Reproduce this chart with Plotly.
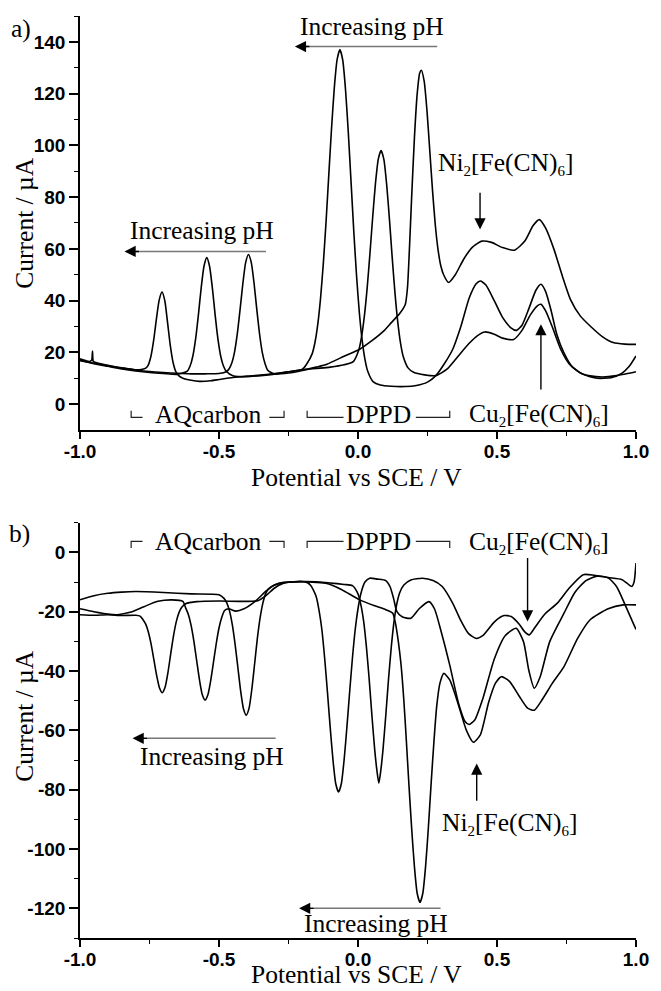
import plotly.graph_objects as go

# ---------------- data ----------------
# Panel a) : three voltammograms (high, middle, low pH)
top_a_x = [-1.0, -0.98, -0.965, -0.958, -0.955, -0.952, -0.94, -0.9, -0.85, -0.8, -0.775, -0.765, -0.755, -0.745, -0.735, -0.725, -0.715, -0.705, -0.695, -0.685, -0.675, -0.665, -0.655, -0.645, -0.63, -0.6, -0.57, -0.53, -0.5, -0.45, -0.4, -0.35, -0.3, -0.25, -0.2, -0.185, -0.165, -0.155, -0.145, -0.135, -0.125, -0.115, -0.105, -0.095, -0.085, -0.075, -0.065, -0.055, -0.045, -0.035, -0.025, -0.015, -0.005, 0.005, 0.015, 0.025, 0.035, 0.055, 0.08, 0.12, 0.17, 0.21, 0.25, 0.28, 0.31, 0.34, 0.37, 0.4, 0.425, 0.44, 0.46, 0.49, 0.52, 0.55, 0.57, 0.59, 0.615, 0.64, 0.658, 0.675, 0.695, 0.715, 0.74, 0.77, 0.81, 0.86, 0.91, 0.95, 0.975, 1.0]
top_a_y = [17.5, 16.8, 16.5, 17.0, 20.5, 16.5, 16.0, 15.0, 14.0, 13.3, 13.5, 13.8, 15.0, 18.4, 24.7, 33.0, 40.3, 43.3, 40.0, 31.5, 22.5, 16.0, 12.5, 11.0, 10.0, 9.2, 8.8, 9.0, 9.5, 10.3, 10.8, 11.2, 11.8, 12.5, 13.5, 15.4, 19.4, 23.7, 30.6, 40.6, 54.0, 70.3, 88.7, 106.9, 122.5, 133.2, 137.0, 133.0, 121.7, 105.2, 85.9, 66.5, 49.3, 35.1, 24.6, 17.3, 12.7, 8.6, 7.4, 6.9, 6.8, 7.2, 8.5, 11.0, 15.5, 21.0, 30.0, 41.0, 46.5, 47.6, 46.0, 40.0, 33.5, 29.5, 28.5, 30.5, 37.0, 44.0, 46.3, 43.5, 36.0, 27.0, 20.0, 14.5, 11.5, 10.0, 10.2, 12.0, 14.5, 18.6]

top_b_x = [-1.0, -0.95, -0.9, -0.85, -0.8, -0.75, -0.7, -0.65, -0.614, -0.604, -0.594, -0.584, -0.574, -0.564, -0.554, -0.544, -0.534, -0.524, -0.514, -0.504, -0.494, -0.484, -0.474, -0.45, -0.4, -0.35, -0.3, -0.25, -0.2, -0.15, -0.1, -0.05, -0.017, 0.003, 0.013, 0.023, 0.033, 0.043, 0.053, 0.063, 0.073, 0.083, 0.093, 0.103, 0.113, 0.123, 0.133, 0.143, 0.153, 0.163, 0.18, 0.2, 0.24, 0.28, 0.32, 0.36, 0.4, 0.43, 0.456, 0.49, 0.52, 0.56, 0.59, 0.62, 0.645, 0.658, 0.675, 0.7, 0.73, 0.76, 0.8, 0.835, 0.88, 0.93, 0.97, 1.0]
top_b_y = [17.0, 15.6, 14.6, 13.6, 12.8, 12.2, 11.8, 11.5, 12.7, 14.7, 18.6, 25.3, 34.6, 45.0, 53.3, 56.6, 53.3, 45.0, 34.6, 25.3, 18.6, 14.7, 12.7, 11.0, 10.6, 11.0, 11.6, 12.5, 13.3, 13.8, 14.3, 15.2, 16.4, 21.0, 26.2, 34.1, 44.9, 58.2, 72.5, 85.5, 94.7, 98.0, 94.6, 85.0, 71.6, 56.7, 43.0, 31.8, 23.6, 18.3, 14.0, 12.3, 11.3, 11.0, 13.5, 18.5, 23.5, 26.5, 27.9, 27.0, 25.5, 25.0, 28.5, 34.5, 38.0, 38.6, 36.0, 29.5, 21.0, 15.5, 12.0, 10.9, 10.5, 11.0, 11.8, 12.5]

top_c_x = [-1.0, -0.95, -0.9, -0.85, -0.8, -0.75, -0.7, -0.65, -0.6, -0.55, -0.5, -0.474, -0.464, -0.454, -0.444, -0.434, -0.424, -0.414, -0.404, -0.394, -0.384, -0.374, -0.364, -0.354, -0.344, -0.334, -0.324, -0.3, -0.25, -0.2, -0.15, -0.112, -0.05, 0.006, 0.05, 0.09, 0.12, 0.15, 0.17, 0.178, 0.185, 0.193, 0.203, 0.213, 0.222, 0.228, 0.238, 0.248, 0.258, 0.268, 0.278, 0.288, 0.298, 0.308, 0.326, 0.35, 0.38, 0.41, 0.445, 0.48, 0.52, 0.563, 0.6, 0.63, 0.652, 0.675, 0.705, 0.735, 0.764, 0.8, 0.835, 0.88, 0.918, 0.96, 1.0]
top_c_y = [16.8, 15.8, 14.8, 13.9, 13.2, 12.6, 12.2, 11.9, 11.7, 11.7, 11.8, 12.5, 13.6, 15.9, 20.2, 27.3, 36.7, 46.8, 54.8, 57.8, 54.8, 46.8, 36.5, 27.0, 19.8, 15.5, 13.0, 11.6, 12.0, 13.0, 14.3, 15.4, 18.5, 21.2, 24.5, 28.0, 31.5, 35.0, 38.5, 45.0, 60.0, 80.0, 103.0, 120.0, 128.0, 129.0, 124.8, 113.6, 98.3, 82.7, 69.3, 59.6, 53.4, 50.0, 47.0, 50.0, 56.0, 60.5, 63.0, 62.5, 60.5, 59.5, 63.0, 69.0, 71.3, 68.0, 59.8, 49.5, 40.5, 34.0, 30.2, 26.0, 23.8, 23.2, 23.1]

# Panel b) : the reverse scans
bot_a_x = [-1.0, -0.95, -0.9, -0.85, -0.8, -0.784, -0.774, -0.764, -0.754, -0.744, -0.734, -0.724, -0.714, -0.704, -0.694, -0.684, -0.674, -0.664, -0.654, -0.644, -0.634, -0.62, -0.58, -0.5, -0.42, -0.36, -0.33, -0.3, -0.27, -0.24, -0.2, -0.18, -0.17, -0.16, -0.15, -0.14, -0.13, -0.12, -0.11, -0.1, -0.09, -0.08, -0.07, -0.06, -0.05, -0.04, -0.03, -0.02, -0.01, 0.0, 0.01, 0.025, 0.042, 0.07, 0.1, 0.115, 0.128, 0.14, 0.16, 0.19, 0.22, 0.255, 0.275, 0.3, 0.33, 0.362, 0.385, 0.4, 0.42, 0.45, 0.49, 0.53, 0.569, 0.595, 0.615, 0.634, 0.655, 0.69, 0.741, 0.78, 0.82, 0.86, 0.9, 0.93, 0.96, 1.0]
bot_a_y = [-21.0, -21.2, -21.0, -21.3, -21.2, -21.5, -22.6, -24.1, -26.9, -31.0, -36.3, -41.6, -45.7, -47.3, -45.5, -40.7, -34.4, -28.3, -23.5, -20.3, -18.5, -17.3, -16.6, -16.4, -16.5, -16.3, -14.5, -12.0, -10.5, -10.0, -9.8, -10.3, -11.2, -12.8, -15.0, -19.6, -26.0, -35.6, -47.0, -59.0, -70.0, -78.0, -80.8, -78.0, -70.0, -59.0, -47.0, -35.6, -26.0, -19.0, -14.0, -10.0, -8.7, -9.0, -9.5, -11.5, -15.5, -20.0, -21.8, -22.2, -19.0, -16.6, -19.0, -27.0, -38.0, -51.0, -57.0, -58.0, -56.5, -49.0, -36.0, -28.0, -25.6, -30.0, -40.0, -45.8, -42.0, -30.0, -20.5, -13.5, -9.5, -8.0, -8.6, -11.5, -17.5, -26.0]

bot_b_x = [-1.0, -0.95, -0.9, -0.865, -0.82, -0.77, -0.72, -0.67, -0.63, -0.62, -0.61, -0.6, -0.59, -0.58, -0.57, -0.56, -0.55, -0.54, -0.53, -0.52, -0.51, -0.5, -0.49, -0.48, -0.465, -0.44, -0.41, -0.37, -0.33, -0.3, -0.27, -0.2, -0.15, -0.1, -0.05, -0.02, 0.0, 0.01, 0.02, 0.03, 0.04, 0.05, 0.06, 0.068, 0.075, 0.082, 0.09, 0.1, 0.11, 0.12, 0.13, 0.14, 0.15, 0.165, 0.19, 0.232, 0.27, 0.303, 0.34, 0.37, 0.397, 0.425, 0.45, 0.49, 0.525, 0.551, 0.58, 0.6, 0.616, 0.635, 0.67, 0.717, 0.76, 0.81, 0.85, 0.9, 0.95, 0.985, 0.993, 1.0]
bot_b_y = [-19.0, -20.0, -20.8, -21.0, -20.2, -18.3, -16.5, -16.0, -16.5, -18.7, -21.0, -24.8, -30.2, -36.7, -43.1, -48.0, -49.8, -48.0, -43.3, -37.1, -30.8, -25.5, -21.9, -19.6, -19.0, -19.8, -19.0, -16.5, -13.0, -11.0, -10.2, -9.8, -9.9, -10.3, -10.8, -11.2, -14.0, -17.5, -23.0, -31.6, -42.5, -54.9, -66.4, -73.5, -77.8, -73.5, -66.4, -54.9, -42.5, -31.6, -23.0, -17.2, -13.6, -11.0, -9.3, -8.7, -9.5, -11.5, -17.0, -23.0, -27.3, -29.0, -28.0, -23.5, -21.3, -21.6, -24.2, -26.8, -27.8, -25.5, -21.0, -17.1, -12.0, -7.5, -7.7, -8.5, -9.2, -11.5, -10.0, -3.6]

bot_c_x = [-1.0, -0.95, -0.9, -0.85, -0.8, -0.7, -0.6, -0.5, -0.482, -0.472, -0.462, -0.452, -0.442, -0.432, -0.422, -0.412, -0.402, -0.392, -0.382, -0.372, -0.362, -0.352, -0.342, -0.332, -0.322, -0.3, -0.27, -0.2, -0.15, -0.112, -0.06, 0.006, 0.06, 0.1, 0.125, 0.135, 0.145, 0.155, 0.165, 0.173, 0.183, 0.193, 0.203, 0.213, 0.223, 0.233, 0.243, 0.253, 0.263, 0.273, 0.283, 0.295, 0.309, 0.33, 0.36, 0.39, 0.415, 0.44, 0.47, 0.495, 0.516, 0.545, 0.58, 0.61, 0.634, 0.66, 0.7, 0.741, 0.79, 0.835, 0.9, 0.954, 1.0]
bot_c_y = [-16.0, -14.6, -13.8, -13.4, -13.2, -13.5, -14.0, -14.3, -15.5, -17.0, -19.8, -24.4, -31.0, -38.9, -46.8, -52.7, -54.9, -52.6, -46.2, -37.7, -29.0, -22.0, -17.0, -13.9, -12.3, -11.0, -10.2, -9.9, -10.1, -10.5, -12.5, -16.0, -18.0, -19.3, -20.5, -24.0, -30.0, -38.0, -50.0, -62.0, -78.0, -93.0, -106.0, -115.0, -118.0, -115.0, -106.0, -93.0, -78.0, -64.0, -52.0, -44.0, -40.8, -43.0, -51.0, -60.0, -64.0, -61.5, -50.5, -44.0, -41.9, -43.5, -48.5, -52.5, -53.2, -50.0, -44.0, -38.5, -29.0, -22.7, -19.0, -17.7, -17.7]

# ticks
x_tick_vals = [-1.0, -0.5, 0.0, 0.5, 1.0]
x_tick_text = ["-1.0", "-0.5", "0.0", "0.5", "1.0"]
x_minor_vals = [-0.75, -0.25, 0.25, 0.75]
top_y_tick_vals = [0, 20, 40, 60, 80, 100, 120, 140]
top_y_tick_text = ["0", "20", "40", "60", "80", "100", "120", "140"]
top_y_minor_vals = [10, 30, 50, 70, 90, 110, 130, 150]
bot_y_tick_vals = [-120, -100, -80, -60, -40, -20, 0]
bot_y_tick_text = ["-120", "-100", "-80", "-60", "-40", "-20", "0"]
bot_y_minor_vals = [-130, -110, -90, -70, -50, -30, -10, 10]

for xs, ys in [(top_a_x, top_a_y), (top_b_x, top_b_y), (top_c_x, top_c_y),
               (bot_a_x, bot_a_y), (bot_b_x, bot_b_y), (bot_c_x, bot_c_y)]:
    assert len(xs) == len(ys), (len(xs), len(ys))

# ---------------- figure ----------------
SERIF = "Liberation Serif"
SANS = "Liberation Sans"
TXT = 25.5

fig = go.Figure()
line_style = dict(color="black", width=1.6, shape="spline", smoothing=0.6)
for xs, ys in [(top_a_x, top_a_y), (top_b_x, top_b_y), (top_c_x, top_c_y)]:
    fig.add_trace(go.Scatter(x=xs, y=ys, mode="lines", line=line_style,
                             xaxis="x", yaxis="y", showlegend=False, hoverinfo="skip"))
for xs, ys in [(bot_a_x, bot_a_y), (bot_b_x, bot_b_y), (bot_c_x, bot_c_y)]:
    fig.add_trace(go.Scatter(x=xs, y=ys, mode="lines", line=line_style,
                             xaxis="x2", yaxis="y2", showlegend=False, hoverinfo="skip"))

tickfont = dict(family=SANS, size=19, color="black", weight="bold")


def xaxis_cfg(anchor):
    return dict(domain=[0, 1], range=[-1, 1], anchor=anchor, tickmode="array",
                tickvals=x_tick_vals, ticktext=x_tick_text, ticks="outside",
                ticklen=7, tickwidth=1.5, tickcolor="black", ticklabelstandoff=-4,
                minor=dict(tickmode="array", tickvals=x_minor_vals, ticks="outside",
                           ticklen=4, tickwidth=1.3, tickcolor="black"),
                showline=True, linecolor="black", linewidth=1.6, showgrid=False,
                zeroline=False, tickfont=tickfont)


def yaxis_cfg(anchor, domain, rng, vals, text, minor_vals):
    return dict(domain=domain, range=rng, anchor=anchor, tickmode="array",
                tickvals=vals, ticktext=text, ticks="outside", ticklen=9,
                tickwidth=1.5, tickcolor="black",
                minor=dict(tickmode="array", tickvals=minor_vals, ticks="outside",
                           ticklen=4, tickwidth=1.3, tickcolor="black"),
                showline=True, linecolor="black", linewidth=1.6, showgrid=False,
                zeroline=False, tickfont=tickfont)


annotations = []
shapes = []


def text(x, y, s, xref, yref, size=TXT, angle=0, yanchor="middle"):
    annotations.append(dict(x=x, y=y, xref=xref, yref=yref, text=s, showarrow=False,
                            xanchor="center", yanchor=yanchor, textangle=angle,
                            font=dict(family=SERIF, size=size, color="black")))


def black_arrow(x0, y0, x1, y1, xref, yref):
    annotations.append(dict(x=x1, y=y1, ax=x0, ay=y0, xref=xref, yref=yref,
                            axref=xref, ayref=yref, text="", showarrow=True,
                            arrowhead=2, arrowsize=1.6, arrowwidth=1.4,
                            arrowcolor="black", standoff=0))


def ph_arrow(x_tail, x_head, y, xref, yref):
    shapes.append(dict(type="line", x0=x_tail, x1=x_head + 0.02, y0=y, y1=y,
                       xref=xref, yref=yref, line=dict(color="#777", width=1.5)))
    annotations.append(dict(x=x_head, y=y, ax=16, ay=0, xref=xref, yref=yref,
                            text="", showarrow=True, arrowhead=2, arrowsize=1.6,
                            arrowwidth=1.4, arrowcolor="black", standoff=0))


def bracket(xa, xb, y_line, y_end, xref, yref, left=True):
    if left:
        path = f"M {xa},{y_end} L {xa},{y_line} L {xb},{y_line}"
    else:
        path = f"M {xa},{y_line} L {xb},{y_line} L {xb},{y_end}"
    shapes.append(dict(type="path", path=path, xref=xref, yref=yref,
                       line=dict(color="#222", width=1.2)))


SUB = "<sub><span style='font-size:15px'>{}</span></sub>"
NI = "Ni" + SUB.format("2") + "[Fe(CN)" + SUB.format("6") + "]"
CU = "Cu" + SUB.format("2") + "[Fe(CN)" + SUB.format("6") + "]"

# ---- panel a annotations ----
text(0.05, 145.8, "Increasing pH", "x", "y")
ph_arrow(0.285, -0.227, 138.2, "x", "y")
text(-0.562, 67.1, "Increasing pH", "x", "y")
ph_arrow(-0.331, -0.84, 59.0, "x", "y")
text(0.529, 92.9, NI, "x", "y")
black_arrow(0.439, 82.3, 0.439, 67.5, "x", "y")
text(0.652, -4.2, CU, "x", "y")
black_arrow(0.658, 5.1, 0.658, 30.9, "x", "y")
text(-0.538, -3.9, "AQcarbon", "x", "y")
bracket(-0.816, -0.775, -5.1, -2.6, "x", "y", left=True)
bracket(-0.319, -0.266, -5.1, -2.6, "x", "y", left=False)
text(0.075, -3.9, "DPPD", "x", "y")
bracket(-0.183, -0.052, -5.1, -2.6, "x", "y", left=True)
bracket(0.208, 0.330, -5.1, -2.6, "x", "y", left=False)

# ---- panel b annotations ----
text(-0.538, 3.7, "AQcarbon", "x2", "y2")
bracket(-0.816, -0.775, 3.7, 1.5, "x2", "y2", left=True)
bracket(-0.319, -0.266, 3.7, 1.5, "x2", "y2", left=False)
text(0.075, 3.7, "DPPD", "x2", "y2")
bracket(-0.183, -0.052, 3.7, 1.5, "x2", "y2", left=True)
bracket(0.208, 0.330, 3.7, 1.5, "x2", "y2", left=False)
text(0.652, 3.4, CU, "x2", "y2")
black_arrow(0.610, -1.4, 0.610, -23.3, "x2", "y2")
text(-0.526, -68.7, "Increasing pH", "x2", "y2")
ph_arrow(-0.296, -0.811, -62.7, "x2", "y2")
text(0.066, -125.2, "Increasing pH", "x2", "y2")
ph_arrow(0.297, -0.212, -120.0, "x2", "y2")
text(0.545, -91.4, NI, "x2", "y2")
black_arrow(0.427, -84.2, 0.427, -71.2, "x2", "y2")

# ---- titles / panel labels ----
text(-0.0995, 0.7755, "Current / µA", "paper", "paper", angle=-90)
text(-0.0995, 0.2408, "Current / µA", "paper", "paper", angle=-90)
text(0.497, 0.499, "Potential vs SCE / V", "paper", "paper")
text(0.497, -0.0574, "Potential vs SCE / V", "paper", "paper", yanchor="bottom")
text(-0.1066, 0.986, "a)", "paper", "paper")
text(-0.1083, 0.439, "b)", "paper", "paper")

fig.update_layout(
    width=661, height=991, autosize=False,
    margin=dict(l=80, r=18, t=16, b=53),
    paper_bgcolor="white", plot_bgcolor="white",
    xaxis=xaxis_cfg("y"),
    yaxis=yaxis_cfg("x", [0.551, 1.0], [-10, 150], top_y_tick_vals, top_y_tick_text, top_y_minor_vals),
    xaxis2=xaxis_cfg("y2"),
    yaxis2=yaxis_cfg("x2", [0.0, 0.4504], [-130, 10], bot_y_tick_vals, bot_y_tick_text, bot_y_minor_vals),
    annotations=annotations,
    shapes=shapes,
    showlegend=False,
)

fig.write_html(
    "out.html", config={"displayModeBar": False, "responsive": False},
    post_script=("document.body.style.margin='0px';document.body.style.padding='0px';"
                 "document.body.style.overflow='hidden';"
                 "document.documentElement.style.overflow='hidden';"))
